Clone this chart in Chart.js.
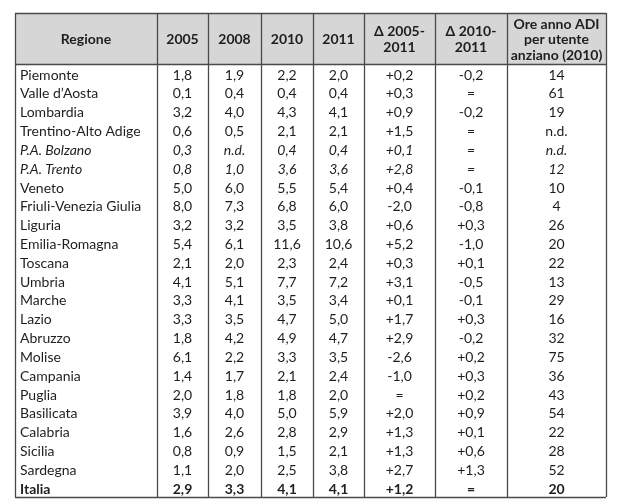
<!DOCTYPE html>
<html lang="it">
<head>
    <meta charset="UTF-8">
    <title>Ore ADI per regione</title>
    <style>
        body { margin: 0; background: #fff; }
        canvas { display: block; }
    </style>
    <script src="https://cdn.jsdelivr.net/npm/chart.js"></script>
</head>
<body>
    <canvas id="tabella" width="634" height="502"></canvas>

    <script>
        // Dati della tabella
        const regioni = ['Piemonte', 'Valle d\u2019Aosta', 'Lombardia', 'Trentino-Alto Adige', 'P.A. Bolzano', 'P.A. Trento',
            'Veneto', 'Friuli-Venezia Giulia', 'Liguria', 'Emilia-Romagna', 'Toscana', 'Umbria', 'Marche', 'Lazio',
            'Abruzzo', 'Molise', 'Campania', 'Puglia', 'Basilicata', 'Calabria', 'Sicilia', 'Sardegna', 'Italia'];
        const v2005 = [1.8, 0.1, 3.2, 0.6, 0.3, 0.8, 5.0, 8.0, 3.2, 5.4, 2.1, 4.1, 3.3, 3.3, 1.8, 6.1, 1.4, 2.0, 3.9, 1.6, 0.8, 1.1, 2.9];
        const v2008 = [1.9, 0.4, 4.0, 0.5, null, 1.0, 6.0, 7.3, 3.2, 6.1, 2.0, 5.1, 4.1, 3.5, 4.2, 2.2, 1.7, 1.8, 4.0, 2.6, 0.9, 2.0, 3.3];
        const v2010 = [2.2, 0.4, 4.3, 2.1, 0.4, 3.6, 5.5, 6.8, 3.5, 11.6, 2.3, 7.7, 3.5, 4.7, 4.9, 3.3, 2.1, 1.8, 5.0, 2.8, 1.5, 2.5, 4.1];
        const v2011 = [2.0, 0.4, 4.1, 2.1, 0.4, 3.6, 5.4, 6.0, 3.8, 10.6, 2.4, 7.2, 3.4, 5.0, 4.7, 3.5, 2.4, 2.0, 5.9, 2.9, 2.1, 3.8, 4.1];
        const delta0511 = [0.2, 0.3, 0.9, 1.5, 0.1, 2.8, 0.4, -2.0, 0.6, 5.2, 0.3, 3.1, 0.1, 1.7, 2.9, -2.6, -1.0, 0, 2.0, 1.3, 1.3, 2.7, 1.2];
        const delta1011 = [-0.2, 0, -0.2, 0, 0, 0, -0.1, -0.8, 0.3, -1.0, 0.1, -0.5, -0.1, 0.3, -0.2, 0.2, 0.3, 0.2, 0.9, 0.1, 0.6, 1.3, 0];
        const oreAnno = [14, 61, 19, null, null, 12, 10, 4, 26, 20, 22, 13, 29, 16, 32, 75, 36, 43, 54, 22, 28, 52, 20];
        const intestazioni = ['Regione', '2005', '2008', '2010', '2011', '\u0394 2005-\n2011', '\u0394 2010-\n2011', 'Ore anno ADI\nper utente\nanziano (2010)'];

        const righeCorsivo = ['P.A. Bolzano', 'P.A. Trento'];
        const rigaGrassetto = 'Italia';

        // larghezze relative delle colonne e altezza dell'intestazione (in righe)
        const larghezze = [142, 51, 53, 52, 51, 71, 72, 99];
        const altezzaHeader = 2.72;

        const bordi = [0];
        larghezze.forEach(w => bordi.push(bordi[bordi.length - 1] + w));
        const totX = bordi[bordi.length - 1];
        const totY = altezzaHeader + regioni.length;

        function num(v) {
            if (v === null) return 'n.d.';
            return v.toFixed(1).replace('.', ',');
        }
        function delta(v) {
            if (v === 0) return '=';
            return (v > 0 ? '+' : '') + v.toFixed(1).replace('.', ',');
        }
        function ore(v) {
            return v === null ? 'n.d.' : String(v);
        }

        const colonne = [
            regioni,
            v2005.map(num),
            v2008.map(num),
            v2010.map(num),
            v2011.map(num),
            delta0511.map(delta),
            delta1011.map(delta),
            oreAnno.map(ore)
        ];

        const FONT = 'Lato, "Open Sans", sans-serif';

        const tabellaPlugin = {
            id: 'tabellaPlugin',
            beforeDraw(chart) {
                const ctx = chart.ctx;
                const x = chart.scales.x, y = chart.scales.y;
                ctx.save();
                ctx.fillStyle = '#fff';
                ctx.fillRect(0, 0, chart.width, chart.height);
                // sfondo intestazione
                ctx.fillStyle = '#d6d6d6';
                ctx.fillRect(x.getPixelForValue(0), y.getPixelForValue(0),
                    x.getPixelForValue(totX) - x.getPixelForValue(0),
                    y.getPixelForValue(altezzaHeader) - y.getPixelForValue(0));
                ctx.restore();
            },
            afterDraw(chart) {
                const ctx = chart.ctx;
                const x = chart.scales.x, y = chart.scales.y;
                ctx.save();
                ctx.fillStyle = '#1e1e1e';
                ctx.textBaseline = 'middle';

                // intestazioni
                ctx.font = 'bold 14px ' + FONT;
                ctx.textAlign = 'center';
                intestazioni.forEach((t, c) => {
                    const cx = x.getPixelForValue((bordi[c] + bordi[c + 1]) / 2);
                    const cy = y.getPixelForValue(altezzaHeader / 2) + 1;
                    const linee = t.split('\n');
                    const lh = 15.5;
                    linee.forEach((l, i) => {
                        ctx.fillText(l, cx, cy + (i - (linee.length - 1) / 2) * lh);
                    });
                });

                // celle
                colonne.forEach((col, c) => {
                    col.forEach((testo, r) => {
                        const reg = regioni[r];
                        let stile = '';
                        if (righeCorsivo.includes(reg)) stile = 'italic ';
                        if (reg === rigaGrassetto) stile = 'bold ';
                        ctx.font = stile + '14px ' + FONT;
                        const cy = y.getPixelForValue(altezzaHeader + r + 0.5) + 1.5;
                        if (c === 0) {
                            ctx.textAlign = 'left';
                            ctx.fillText(testo, x.getPixelForValue(bordi[0]) + 5, cy);
                        } else {
                            ctx.textAlign = 'center';
                            ctx.fillText(testo, x.getPixelForValue((bordi[c] + bordi[c + 1]) / 2), cy);
                        }
                    });
                });

                // bordi
                ctx.strokeStyle = '#4a4a4a';
                ctx.lineWidth = 1.3;
                const top = y.getPixelForValue(0), bottom = y.getPixelForValue(totY);
                const left = x.getPixelForValue(0), right = x.getPixelForValue(totX);
                ctx.beginPath();
                bordi.forEach(b => {
                    const px = Math.round(x.getPixelForValue(b)) + 0.5;
                    ctx.moveTo(px, top);
                    ctx.lineTo(px, bottom);
                });
                [0, altezzaHeader, totY].forEach(v => {
                    const py = Math.round(y.getPixelForValue(v)) + 0.5;
                    ctx.moveTo(left, py);
                    ctx.lineTo(right, py);
                });
                ctx.stroke();
                ctx.restore();
            }
        };

        const ctx = document.getElementById('tabella').getContext('2d');
        new Chart(ctx, {
            type: 'scatter',
            data: { datasets: [{ data: [], pointRadius: 0 }] },
            options: {
                responsive: false,
                animation: false,
                events: [],
                layout: { padding: { left: 15, top: 13, right: 28, bottom: 5 } },
                plugins: { legend: { display: false }, tooltip: { enabled: false } },
                scales: {
                    x: { type: 'linear', min: 0, max: totX, display: false },
                    y: { type: 'linear', min: 0, max: totY, reverse: true, display: false }
                }
            },
            plugins: [tabellaPlugin]
        });
    </script>
</body>
</html>
